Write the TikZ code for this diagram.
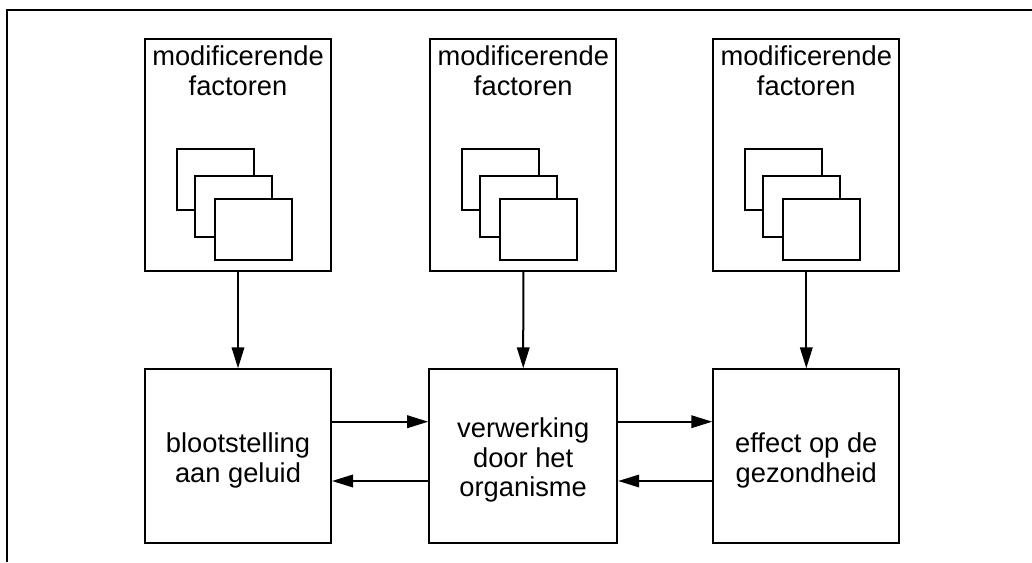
\documentclass[tikz,border=0pt]{standalone}
\usepackage{fontspec}
\setmainfont{Liberation Sans}
\usetikzlibrary{arrows.meta}
\begin{document}
\begin{tikzpicture}[x=1pt,y=-1pt,
  ln/.style={line width=2pt},
  mainbox/.style={draw,line width=2pt,minimum width=186pt,minimum height=174pt,inner sep=0pt},
  boxtext/.style={inner sep=0pt,align=center,font=\fontsize{27.3}{29.5}\selectfont},
  topbox/.style={draw,line width=2pt,minimum width=186pt,minimum height=231.7pt,inner sep=0pt},
  toptext/.style={anchor=north,inner sep=0pt,align=center,font=\fontsize{27.3}{29.5}\selectfont},
  card/.style={draw,fill=white,line width=2pt,minimum width=77pt,minimum height=61pt,inner sep=0pt,outer sep=0pt,anchor=north west},
  arr/.style={line width=2pt,-{Triangle[length=21pt,width=12.5pt]}}
]
\useasboundingbox (0,0) rectangle (1032,562);
\coordinate (fa) at (6.5,562);
\coordinate (fb) at (6.5,9.5);
\coordinate (fc) at (1032,9.5);
\draw[ln] (fa) -- (fb) -- (fc);
\foreach \n/\x in {1/238,2/523.3,3/806.3}{
  \node[topbox] (m\n) at (\x,155.15) {};
  \node[toptext] (mt\n) at (\x,45.8) {modificerende\\factoren};
  \node[card] (ca\n) at (\x-61.3,149.3) {};
  \node[card] (cb\n) at (\x-43,175.7) {};
  \node[card] (cc\n) at (\x-23,199) {};
}
\node[mainbox] (b1) at (238,456.3) {};
\node[mainbox,minimum width=188pt] (b2) at (523.2,456.3) {};
\node[mainbox] (b3) at (806.3,456.3) {};
\node[boxtext] (t1) at ([yshift=-4pt]b1.center) {blootstelling\\aan geluid};
\node[boxtext] (t2) at ([yshift=-4pt]b2.center) {verwerking\\door het\\organisme};
\node[boxtext] (t3) at ([yshift=-4pt]b3.center) {effect op de\\gezondheid};
\draw[arr] (m1) -- (b1);
\draw[arr] (m2) -- (b2);
\draw[arr] (m3) -- (b3);
\draw[arr] ([yshift=34.6pt]b1.east) -- ([yshift=34.6pt]b2.west);
\draw[arr] ([yshift=-24.7pt]b2.west) -- ([yshift=-24.7pt]b1.east);
\draw[arr] ([yshift=34.6pt]b2.east) -- ([yshift=34.6pt]b3.west);
\draw[arr] ([yshift=-24.7pt]b3.west) -- ([yshift=-24.7pt]b2.east);
\end{tikzpicture}
\end{document}
